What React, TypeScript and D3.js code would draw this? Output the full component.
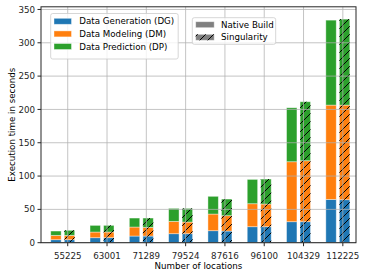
import React, { useRef, useEffect } from "react";
import * as d3 from "d3";

// x categories (number of locations)
const categories = ["55225", "63001", "71289", "79524", "87616", "96100", "104329", "112225"];

// stacked segment heights, native build
const nativeDG = [4.5, 7.5, 10, 13.5, 18, 24, 31.5, 65];
const nativeDM = [6.5, 8.5, 13.5, 18.5, 25, 34.5, 90, 141.5];
const nativeDP = [6.5, 10, 13.5, 19.5, 26.6, 36.5, 81, 127.5];

// stacked segment heights, singularity
const singDG = [4.5, 7.5, 10, 13.5, 17.5, 24, 31.5, 64.5];
const singDM = [6.5, 8.5, 13, 17.5, 23, 34, 91.5, 142];
const singDP = [7.6, 10, 14, 20.5, 25, 37.5, 88.5, 129];

const phaseNames = ["Data Generation (DG)", "Data Modeling (DM)", "Data Prediction (DP)"];
const phaseColors = ["#1f77b4", "#ff7f0e", "#2ca02c"];
const buildNames = ["Native Build", "Singularity"];
const yTicks = [0, 50, 100, 150, 200, 250, 300, 350];

const W = 366;
const H = 276;
const FONT = "DejaVu Sans, sans-serif";

function StackedBars() {
  const svgRef = useRef(null);

  useEffect(() => {
    const svg = d3.select(svgRef.current);
    svg.selectAll("*").remove();

    const left = 41, right = 356, top = 6.8, bottom = 242.7;

    const x = d3.scaleLinear().domain([-0.68, 7.335]).range([left, right]);
    const y = d3.scaleLinear().domain([0, 354]).range([bottom, top]);

    // hatch pattern for singularity bars
    const defs = svg.append("defs");
    const pat = defs
      .append("pattern")
      .attr("id", "hatch")
      .attr("patternUnits", "userSpaceOnUse")
      .attr("width", 8)
      .attr("height", 8);
    pat
      .append("path")
      .attr("d", "M-2,2 L2,-2 M0,8 L8,0 M6,10 L10,6")
      .attr("stroke", "#000")
      .attr("stroke-width", 1);

    const bw = x(0.265) - x(0);
    const builds = [
      { offset: -0.3, series: [nativeDG, nativeDM, nativeDP], hatch: false },
      { offset: 0.045, series: [singDG, singDM, singDP], hatch: true },
    ];

    const barsG = svg.append("g");
    builds.forEach((b) => {
      categories.forEach((c, i) => {
        let base = 0;
        b.series.forEach((s, k) => {
          const v = s[i];
          const cx = x(i + b.offset);
          barsG
            .append("rect")
            .attr("x", cx - bw / 2)
            .attr("y", y(base + v))
            .attr("width", bw)
            .attr("height", y(base) - y(base + v))
            .attr("fill", phaseColors[k])
            .attr("stroke", "white")
            .attr("stroke-opacity", 0.5)
            .attr("stroke-width", 0.8);
          if (b.hatch) {
            barsG
              .append("rect")
              .attr("x", cx - bw / 2)
              .attr("y", y(base + v))
              .attr("width", bw)
              .attr("height", y(base) - y(base + v))
              .attr("fill", "url(#hatch)");
          }
          base += v;
        });
      });
    });

    // grid (drawn over bars, like matplotlib default)
    const grid = svg.append("g").attr("stroke", "#b0b0b0").attr("stroke-opacity", 0.75).attr("stroke-width", 1);
    categories.forEach((c, i) => {
      grid.append("line").attr("x1", x(i)).attr("x2", x(i)).attr("y1", top).attr("y2", bottom);
    });
    yTicks.forEach((t) => {
      grid.append("line").attr("x1", left).attr("x2", right).attr("y1", y(t)).attr("y2", y(t));
    });

    // frame
    svg
      .append("rect")
      .attr("x", left)
      .attr("y", top)
      .attr("width", right - left)
      .attr("height", bottom - top)
      .attr("fill", "none")
      .attr("stroke", "#262626")
      .attr("stroke-width", 1);

    // ticks + labels
    const ticks = svg.append("g").attr("font-family", FONT).attr("font-size", 8.7).attr("fill", "#262626");
    yTicks.forEach((t) => {
      ticks.append("line").attr("x1", left - 3.5).attr("x2", left).attr("y1", y(t)).attr("y2", y(t)).attr("stroke", "#262626");
      ticks
        .append("text")
        .attr("x", left - 6)
        .attr("y", y(t) + 3.1)
        .attr("text-anchor", "end")
        .text(t);
    });
    categories.forEach((c, i) => {
      ticks.append("line").attr("x1", x(i)).attr("x2", x(i)).attr("y1", bottom).attr("y2", bottom + 3.5).attr("stroke", "#262626");
      ticks
        .append("text")
        .attr("x", x(i))
        .attr("y", 258.7)
        .attr("text-anchor", "middle")
        .text(c);
    });

    // axis titles
    svg
      .append("text")
      .attr("x", (left + right) / 2)
      .attr("y", 268.7)
      .attr("text-anchor", "middle")
      .attr("font-family", FONT)
      .attr("font-size", 8.7)
      .attr("fill", "#000")
      .text("Number of locations");
    svg
      .append("text")
      .attr("transform", `translate(14.8, ${(top + bottom) / 2}) rotate(-90)`)
      .attr("text-anchor", "middle")
      .attr("font-family", FONT)
      .attr("font-size", 8.7)
      .attr("fill", "#000")
      .text("Execution time in seconds");

    // legend: phases
    const lg1 = svg.append("g").attr("font-family", FONT).attr("font-size", 8.7);
    lg1
      .append("rect")
      .attr("x", 50.7)
      .attr("y", 13.5)
      .attr("width", 127.5)
      .attr("height", 45.5)
      .attr("rx", 2)
      .attr("fill", "white")
      .attr("fill-opacity", 0.8)
      .attr("stroke", "#cccccc")
      .attr("stroke-width", 0.8);
    phaseNames.forEach((n, k) => {
      const cy = 21.3 + k * 12.6;
      lg1
        .append("rect")
        .attr("x", 54)
        .attr("y", cy - 3)
        .attr("width", 17.5)
        .attr("height", 6)
        .attr("fill", phaseColors[k])
        .attr("stroke", "white")
        .attr("stroke-opacity", 0.5)
        .attr("stroke-width", 0.8);
      lg1
        .append("text")
        .attr("x", 79.3)
        .attr("y", cy + 3.1)
        .attr("fill", "#000")
        .text(n);
    });

    // legend: builds
    const lg2 = svg.append("g").attr("font-family", FONT).attr("font-size", 8.7);
    lg2
      .append("rect")
      .attr("x", 192.3)
      .attr("y", 17.7)
      .attr("width", 83.4)
      .attr("height", 26.6)
      .attr("rx", 2)
      .attr("fill", "white")
      .attr("fill-opacity", 0.8)
      .attr("stroke", "#cccccc")
      .attr("stroke-width", 0.8);
    buildNames.forEach((n, k) => {
      const cy = 24.7 + k * 12.6;
      lg2
        .append("rect")
        .attr("x", 195.7)
        .attr("y", cy - 3)
        .attr("width", 18.5)
        .attr("height", 6)
        .attr("fill", "#808080")
        .attr("stroke", "white")
        .attr("stroke-opacity", 0.5)
        .attr("stroke-width", 0.8);
      if (k === 1) {
        lg2
          .append("rect")
          .attr("x", 195.7)
          .attr("y", cy - 3)
          .attr("width", 18.5)
          .attr("height", 6)
          .attr("fill", "url(#hatch)");
      }
      lg2
        .append("text")
        .attr("x", 221)
        .attr("y", cy + 3.1)
        .attr("fill", "#000")
        .text(n);
    });
  }, []);

  return (
    <svg
      ref={svgRef}
      width={W}
      height={H}
      style={{ position: "absolute", left: 0, top: 0, background: "white" }}
    ></svg>
  );
}

export default function App() {
  return <StackedBars />;
}
